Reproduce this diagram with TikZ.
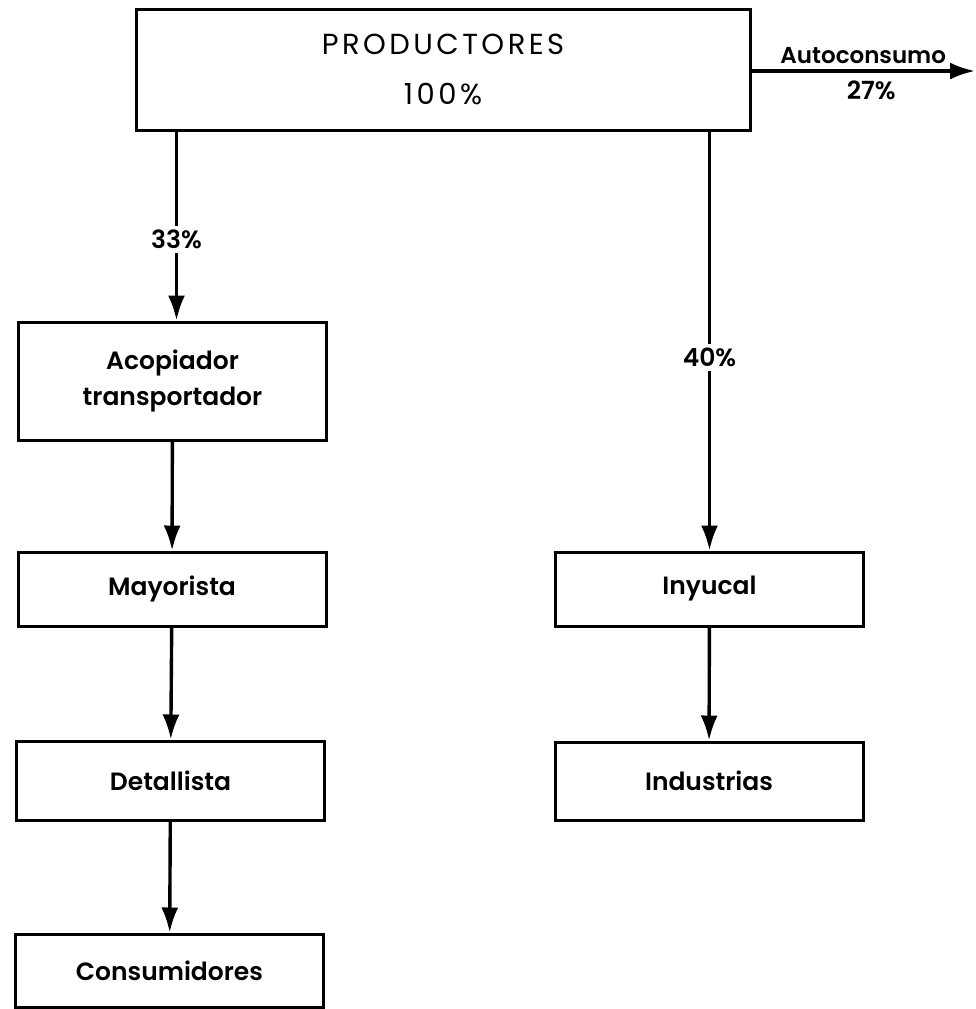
\documentclass[tikz,border=0pt]{standalone}
\usepackage{fontspec}
\setmainfont{Poppins}[BoldFont={Poppins SemiBold}]
\newfontfamily\anchafont{Poppins}[LetterSpace=12]
\usetikzlibrary{arrows.meta}
\tikzstyle{caja} = [draw, rectangle, line width=1.5pt, minimum width=154pt, align=center, font=\bfseries\fontsize{12.5}{18}\selectfont, inner sep=0pt]
\tikzstyle{flecha} = [-{Latex[length=12.5pt,width=8.5pt]}, line width=1.7pt]
\tikzstyle{pct} = [fill=white, inner sep=2pt, font=\bfseries\fontsize{12.5}{14}\selectfont]

\begin{document}
\begin{tikzpicture}[x=0.5pt, y=-0.5pt]
    \useasboundingbox (0,0) rectangle (976,1009);
    % cajas
    \node[caja, minimum width=307pt, minimum height=60.5pt, font=\anchafont\fontsize{14.5}{25}\selectfont] (prod) at (443,69.5) {PRODUCTORES\\100\%};
    \node[caja, minimum height=59pt] (acop) at (172.5,381) {Acopiador\\transportador};
    \node[caja, minimum height=37pt] (mayor) at (172,589) {Mayorista};
    \node[caja, minimum height=39.5pt] (detal) at (170.5,780.5) {Detallista};
    \node[caja, minimum height=36.5pt] (consum) at (169.5,970.5) {Consumidores};
    \node[caja, minimum height=37pt] (inyucal) at (709.5,589) {Inyucal};
    \node[caja, minimum height=39pt] (indus) at (709,781) {Industrias};
    \coordinate (fin) at (975,71);
    % flechas
    \draw[flecha] ([xshift=2pt]acop.north |- prod.south) -- node[pct, pos=0.57] {33\%} ([xshift=2pt]acop.north);
    \draw[flecha] (acop) -- (mayor);
    \draw[flecha] (mayor) -- (detal);
    \draw[flecha] (detal) -- (consum);
    \draw[flecha] (inyucal.north |- prod.south) -- node[pct, pos=0.54] {40\%} (inyucal.north);
    \draw[flecha] (inyucal) -- (indus);
    \draw[flecha] (prod.east |- fin) -- (fin)
        node[midway, above, font=\bfseries\fontsize{11.5}{13}\selectfont, inner sep=3pt] {Autoconsumo}
        node[midway, below, font=\bfseries\fontsize{12.5}{14}\selectfont, inner sep=4pt, xshift=4pt] {27\%};
\end{tikzpicture}
\end{document}
